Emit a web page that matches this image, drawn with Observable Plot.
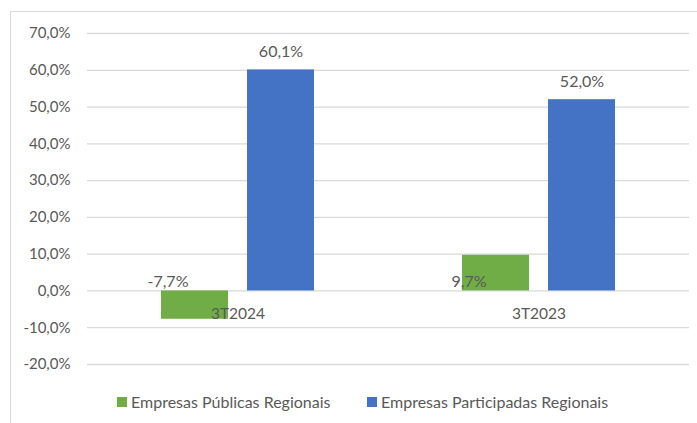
<!DOCTYPE html>
<html>
<head>
<meta charset="utf-8">
<script src="https://cdn.jsdelivr.net/npm/d3@7"></script>
<script src="https://cdn.jsdelivr.net/npm/@observablehq/plot@0.6"></script>
<style>
  html, body { margin: 0; padding: 0; background: #fff; }
  body { width: 697px; height: 423px; position: relative; overflow: hidden; font-family: Lato, "Open Sans", sans-serif; }
  #frame { position: absolute; left: 10px; top: 11px; width: 687px; height: 412px; border-left: 1px solid #d9d9d9; border-top: 1px solid #d9d9d9; box-sizing: border-box; pointer-events: none; }
  #chart { position: absolute; left: 0; top: 0; }
  .leg { position: absolute; top: 392px; display: flex; align-items: center; font-size: 16px; color: #595959; white-space: nowrap; }
  .sw { width: 10px; height: 10px; margin-right: 4px; }
</style>
</head>
<body>
<div id="chart"></div>
<div id="frame"></div>
<div id="legend"></div>
<script>
const categories = ["3T2024", "3T2023"];
const seriesNames = ["Empresas Públicas Regionais", "Empresas Participadas Regionais"];
const publicas = [-7.7, 9.7];
const participadas = [60.1, 52.0];
const yTicks = [-20, -10, 0, 10, 20, 30, 40, 50, 60, 70];
const colors = ["#70AD47", "#4472C4"];

const fmt = d => d.toFixed(1).replace(".", ",") + "%";

const rows = [];
categories.forEach((c, i) => {
  rows.push({cat: c, series: seriesNames[0], value: publicas[i]});
  rows.push({cat: c, series: seriesNames[1], value: participadas[i]});
});
const pubRows = rows.filter(r => r.series === seriesNames[0]);
const partRows = rows.filter(r => r.series === seriesNames[1]);

const textColor = "#595959";

const chart = Plot.plot({
  width: 697,
  height: 380,
  marginLeft: 87,
  marginRight: 8,
  marginTop: 33,
  marginBottom: 16,
  style: {fontFamily: "Lato, 'Open Sans', sans-serif", fontSize: "15px", color: textColor, background: "transparent"},
  fx: {domain: categories, padding: 0, axis: null, label: null},
  x: {domain: seriesNames, paddingInner: 0.221, paddingOuter: 0.86, axis: null, label: null},
  y: {domain: [-20, 70], axis: null, label: null},
  color: {domain: seriesNames, range: colors},
  marks: [
    Plot.ruleY(yTicks, {stroke: "#d9d9d9", strokeWidth: 1.3}),
    Plot.axisY({ticks: yTicks, tickSize: 0, tickPadding: 17, tickFormat: fmt, label: null, fill: textColor, fontSize: 15}),
    Plot.barY(rows, {fx: "cat", x: "series", y: "value", fill: "series"}),
    Plot.text(categories, {fx: d => d, y: () => 0, text: d => d, dy: 23, fill: textColor, fontSize: 15.5}),
    Plot.text(partRows, {fx: "cat", x: "series", y: "value", text: d => fmt(d.value), dy: -18, fill: textColor, fontSize: 16}),
    Plot.text(pubRows, {fx: "cat", x: "series", y: () => 0, text: d => fmt(d.value), dy: -9, dx: -27, fill: textColor, fontSize: 16})
  ]
});
document.getElementById("chart").appendChild(chart);

const legend = document.getElementById("legend");
const legLefts = [117, 367];
seriesNames.forEach((s, i) => {
  const item = document.createElement("div");
  item.className = "leg";
  item.style.left = legLefts[i] + "px";
  const sw = document.createElement("div");
  sw.className = "sw";
  sw.style.background = colors[i];
  const t = document.createElement("span");
  t.textContent = s;
  item.appendChild(sw);
  item.appendChild(t);
  legend.appendChild(item);
});
</script>
</body>
</html>
